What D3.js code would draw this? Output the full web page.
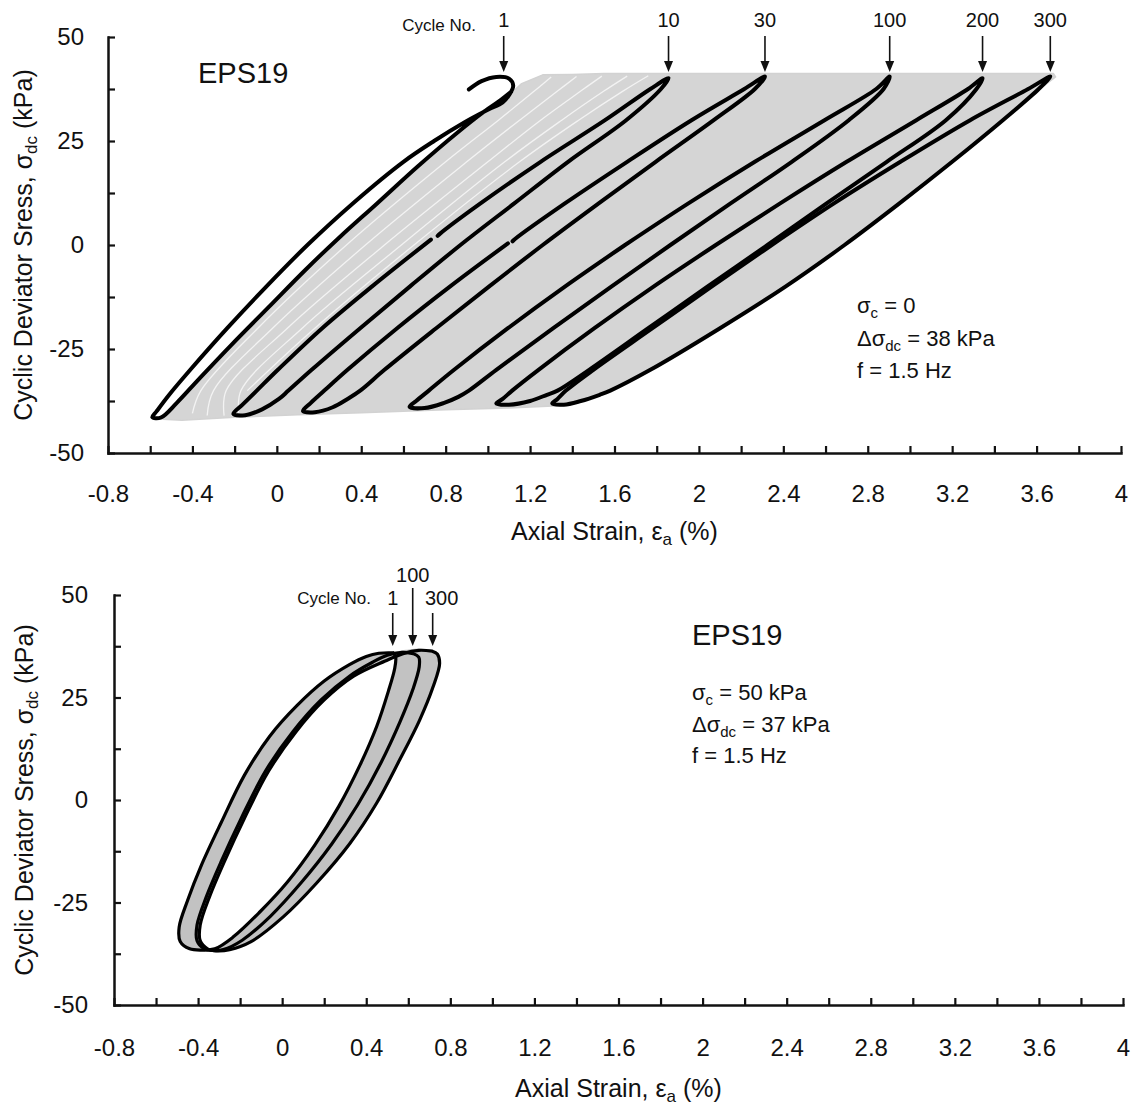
<!DOCTYPE html>
<html>
<head>
<meta charset="utf-8">
<script src="https://cdn.jsdelivr.net/npm/d3@7"></script>
<style>
  body { margin: 0; background: #fff; }
  svg { display: block; }
  text { font-family: "Liberation Sans", Arial, Helvetica, sans-serif; fill: #111; }
</style>
</head>
<body>
<svg id="chart" width="1135" height="1106"></svg>
<script>
// ---------- axis ticks (shared by both panels) ----------
const xTicks = [-0.8,-0.6,-0.4,-0.2,0,0.2,0.4,0.6,0.8,1,1.2,1.4,1.6,1.8,2,2.2,2.4,2.6,2.8,3,3.2,3.4,3.6,3.8,4];
const xTickLabels = ["-0.8","-0.4","0","0.4","0.8","1.2","1.6","2","2.4","2.8","3.2","3.6","4"];
const yTicks = [-50,-37.5,-25,-12.5,0,12.5,25,37.5,50];
const yTickLabels = ["-50","-25","0","25","50"];

// ---------- panel A: sigma_c = 0, points are [axial strain %, deviator stress kPa] ----------
const cycle1A = [
  [0.91,37.4],[0.97,39.4],[1.04,40.4],[1.10,40.0],[1.12,38.3],[1.10,36.0],[1.07,34.3],
  [1.00,32.5],[0.89,29.5],[0.745,25],[0.60,20],[0.36,10],[0.145,0],[-0.05,-10],[-0.235,-20],[-0.41,-30],[-0.51,-36],[-0.57,-40],[-0.59,-41.4],
  [-0.55,-41.5],[-0.475,-38],[-0.365,-32],[-0.215,-24],[-0.04,-15],[0.135,-6],[0.30,2],[0.475,10],[0.67,19],[0.855,27],[0.98,32],[1.065,35],[1.11,36.8]
];
const cycle10A = [
  [0.73,1.3],[0.45,-10],[0.215,-20],[0.005,-30],[-0.095,-35],[-0.165,-38.5],[-0.206,-40.6],
  [-0.15,-40.9],[-0.07,-39.5],[0.01,-37],[0.055,-35],[0.165,-30],[0.395,-20],[0.63,-10],[0.87,0],[1.125,10],[1.38,20],[1.655,30],[1.82,37.5],[1.856,40.1],
  [1.77,37.5],[1.555,30],[1.25,20],[0.965,10],[0.775,2.8],[0.762,2.2]
];
const cycle30A = [
  [1.095,0.4],[0.82,-10],[0.57,-20],[0.335,-30],[0.225,-35],[0.16,-38],[0.124,-39.9],
  [0.18,-40.2],[0.265,-39],[0.335,-37],[0.395,-35],[0.51,-30],[0.755,-20],[1.005,-10],[1.26,0],[1.525,10],[1.795,20],[2.07,30],[2.265,37.5],[2.313,40.5],
  [2.215,37.5],[1.965,30],[1.66,20],[1.365,10],[1.13,1.5],[1.117,0.9]
];
const cycle100A = [
  [1.65,0],[1.365,-10],[1.095,-20],[0.84,-30],[0.72,-35],[0.66,-37.5],[0.629,-38.9],
  [0.70,-39.2],[0.79,-38],[0.86,-36.5],[0.91,-35],[1.04,-30],[1.31,-20],[1.585,-10],[1.865,0],[2.15,10],[2.44,20],[2.71,30],[2.875,37.5],[2.904,40.5],
  [2.84,37.5],[2.595,30],[2.265,20],[1.95,10],[1.65,0]
];
const cycle200A = [
  [2.08,0],[1.785,-10],[1.505,-20],[1.24,-30],[1.115,-35],[1.07,-37],[1.04,-38.1],
  [1.10,-38.4],[1.20,-37.5],[1.28,-36],[1.33,-35],[1.48,-30],[1.76,-20],[2.04,-10],[2.325,0],[2.605,10],[2.89,20],[3.17,30],[3.315,37.5],[3.344,40.1],
  [3.275,37.5],[3.03,30],[2.70,20],[2.385,10],[2.08,0]
];
const cycle300A = [
  [2.345,0],[2.06,-10],[1.78,-20],[1.50,-30],[1.37,-35],[1.33,-37],[1.305,-38.1],
  [1.36,-38.4],[1.44,-37.5],[1.53,-36],[1.58,-35],[1.77,-30],[2.10,-20],[2.41,-10],[2.69,0],[2.95,10],[3.20,20],[3.44,30],[3.61,37.5],[3.665,40.5],
  [3.56,37.5],[3.285,30],[2.955,20],[2.64,10],[2.345,0]
];
// outline of the band swept by all the intermediate cycles
const envelopeA = [
  [1.09,35.5],[1.16,38.8],[1.26,40.9],[1.40,41.0],[1.55,41.2],[1.75,41.2],[2.2,41.2],[2.8,41.2],[3.3,41.2],[3.68,41.2],
  [3.69,40.4],[3.615,37.5],[3.445,30],[3.205,20],[2.955,10],[2.695,0],[2.415,-10],[2.105,-20],[1.775,-30],[1.585,-35],[1.535,-36],[1.445,-37.5],[1.36,-38.6],
  [1.1,-39.2],[0.8,-39.6],[0.4,-40.3],[0.1,-40.8],[-0.2,-41.4],[-0.45,-42.1],[-0.54,-41.9],
  [-0.475,-38],[-0.365,-32],[-0.215,-24],[-0.04,-15],[0.135,-6],[0.30,2],[0.475,10],[0.67,19],[0.855,27],[0.98,32]
];
// light gaps between the first few cycles inside the band
const earlyGapsA = [
  [[-0.40,-40.5],[-0.36,-35],[-0.09,-20],[0.33,0],[0.80,20],[1.05,30],[1.22,37],[1.30,40.4]],
  [[-0.33,-41],[-0.30,-35],[-0.02,-20],[0.42,0],[0.90,20],[1.15,30],[1.33,37],[1.42,40.5]],
  [[-0.25,-41],[-0.24,-35],[0.05,-20],[0.51,0],[1.00,20],[1.25,30],[1.44,37],[1.54,40.6]],
  [[-0.18,-40.8],[-0.17,-35],[0.12,-20],[0.59,0],[1.08,20],[1.35,30],[1.55,37],[1.66,40.6]],
  [[-0.14,-35],[0.18,-20],[0.65,0],[1.15,20],[1.43,30],[1.64,37],[1.76,40.7]]
];
const cycleNumbersA = ["1","10","30","100","200","300"];
const peakStrainA = [1.075,1.856,2.313,2.904,3.344,3.665];

// ---------- panel B: sigma_c = 50 kPa (unloading branch top->bottom, loading branch bottom->top) ----------
const unload1B = [[0.528,35.9],[0.46,35.8],[0.40,35.0],[0.32,33.0],[0.20,29.0],[0.07,23.0],[-0.06,15.5],[-0.18,6.0],
  [-0.29,-5.5],[-0.385,-16],[-0.45,-24.5],[-0.49,-31],[-0.485,-34.5],[-0.44,-36.3],[-0.38,-36.6]];
const load1B = [[-0.38,-36.6],[-0.32,-36.3],[-0.235,-33.5],[-0.11,-27.5],[0.025,-20],[0.155,-11],[0.27,-1.5],[0.37,8.5],
  [0.45,18],[0.505,26.5],[0.535,32],[0.54,34.8],[0.528,35.9]];
const unload100B = [[0.623,35.7],[0.57,36.0],[0.50,35.3],[0.43,33.6],[0.32,30.2],[0.185,24.4],[0.05,16.6],[-0.08,7.0],
  [-0.195,-4.5],[-0.29,-15],[-0.36,-23.5],[-0.405,-30.5],[-0.405,-34.3],[-0.37,-36.3],[-0.33,-36.7]];
const load100B = [[-0.33,-36.7],[-0.28,-36.5],[-0.19,-34.2],[-0.055,-28.3],[0.09,-20.2],[0.235,-10.8],[0.36,-1.1],[0.47,9.1],
  [0.56,19],[0.622,27],[0.652,32.5],[0.65,34.8],[0.623,35.7]];
const unload300B = [[0.714,36.3],[0.65,36.5],[0.575,35.7],[0.49,33.9],[0.34,30.2],[0.20,24.4],[0.065,16.6],[-0.065,7.0],
  [-0.18,-4.5],[-0.275,-15],[-0.345,-23.5],[-0.39,-30.5],[-0.39,-34.3],[-0.355,-36.3],[-0.31,-36.8]];
const load300B = [[-0.31,-36.8],[-0.25,-36.5],[-0.15,-34.6],[0.005,-28.5],[0.163,-20.3],[0.322,-10.6],[0.449,-0.8],[0.559,9.8],
  [0.654,19.5],[0.718,27.6],[0.749,33.3],[0.738,35.6],[0.714,36.3]];
const capB = [[0.65,36.7],[0.59,36.4]];
const cycleNumbersB = ["1","100","300"];
const peakStrainB = [0.526,0.621,0.716];

// ---------- drawing ----------
const svg = d3.select("#chart");
const FONT = '"Liberation Sans", Arial, Helvetica, sans-serif';

function makeScales(p) {
  return {
    x: d3.scaleLinear().domain([-0.8, 4]).range([p.left, p.right]),
    y: d3.scaleLinear().domain([-50, 50]).range([p.bottom, p.top])
  };
}

function drawAxes(g, x, y, p) {
  const xa = d3.axisBottom(x).tickValues(xTicks).tickSize(-7).tickSizeOuter(0)
    .tickPadding(p.xPad).tickFormat((d, i) => i % 2 === 0 ? xTickLabels[i / 2] : "");
  const ya = d3.axisLeft(y).tickValues(yTicks).tickSize(-7).tickSizeOuter(0)
    .tickPadding(p.yPad).tickFormat((d, i) => i % 2 === 0 ? yTickLabels[i / 2] : "");
  const gx = g.append("g").attr("transform", `translate(0,${y(-50)})`).call(xa);
  const gy = g.append("g").attr("transform", `translate(${x(-0.8)},0)`).call(ya);
  [gx, gy].forEach(a => {
    a.attr("font-family", FONT).attr("font-size", 24);
    a.select(".domain").attr("stroke", "#111").attr("stroke-width", 2.5).attr("stroke-linecap", "square");
    a.selectAll(".tick line").attr("stroke", "#111").attr("stroke-width", 2.2);
    a.selectAll(".tick text").attr("fill", "#1a1a1a");
  });

  // x axis title
  const xt = g.append("text").attr("x", (p.left + p.right) / 2).attr("y", p.xTitleY)
    .attr("text-anchor", "middle").attr("font-size", 25);
  xt.append("tspan").text("Axial Strain, \u03b5");
  xt.append("tspan").attr("font-size", 17).attr("dy", 5).text("a");
  xt.append("tspan").attr("dy", -5).text(" (%)");

  // y axis title
  const yt = g.append("text").attr("transform", `translate(${p.yTitleX},${y(0)}) rotate(-90)`)
    .attr("text-anchor", "middle").attr("font-size", 25);
  yt.append("tspan").text("Cyclic Deviator Sress, \u03c3");
  yt.append("tspan").attr("font-size", 17).attr("dy", 5).text("dc");
  yt.append("tspan").attr("dy", -5).text(" (kPa)");
}

function drawParams(g, x0, y0, lines, spacing) {
  lines.forEach((ln, i) => {
    const t = g.append("text").attr("x", x0).attr("y", y0 + i * spacing).attr("font-size", 22);
    ln.forEach(part => {
      const s = t.append("tspan").text(part.t);
      if (part.sub) s.attr("font-size", 15).attr("dy", 5);
      if (part.after) s.attr("dy", -5);
    });
  });
}

function arrow(g, ax, y0, y1) {
  g.append("line").attr("x1", ax).attr("x2", ax).attr("y1", y0).attr("y2", y1 - 8)
    .attr("stroke", "#111").attr("stroke-width", 1.6);
  g.append("path").attr("d", `M${ax - 4.5},${y1 - 11}L${ax + 4.5},${y1 - 11}L${ax},${y1}Z`).attr("fill", "#111");
}

// ===== panel A =====
(function () {
  const p = { left: 108, right: 1121, top: 37, bottom: 453, xPad: 32, yPad: 24, xTitleY: 540, yTitleX: 32 };
  const { x, y } = makeScales(p);
  const g = svg.append("g");
  const path = d3.line().x(d => x(d[0])).y(d => y(d[1])).curve(d3.curveCatmullRom.alpha(0.5));
  const band = d3.line().x(d => x(d[0])).y(d => y(d[1])).curve(d3.curveLinearClosed);

  g.append("path").attr("d", band(envelopeA)).attr("fill", "#d5d5d5").attr("stroke", "#d2d2d2")
    .attr("stroke-width", 1.5).attr("stroke-linejoin", "round");
  earlyGapsA.forEach(s => g.append("path").attr("d", path(s)).attr("fill", "none")
    .attr("stroke", "#f3f3f3").attr("stroke-width", 1.3));

  [cycle1A, cycle10A, cycle30A, cycle100A, cycle200A, cycle300A].forEach(c =>
    g.append("path").attr("d", path(c)).attr("fill", "none").attr("stroke", "#000")
      .attr("stroke-width", 4).attr("stroke-linejoin", "round").attr("stroke-linecap", "round"));

  drawAxes(g, x, y, p);

  g.append("text").attr("x", 198).attr("y", 83).attr("font-size", 29).text("EPS19");
  drawParams(g, 857, 313, [
    [{ t: "\u03c3" }, { t: "c", sub: true }, { t: " = 0", after: true }],
    [{ t: "\u0394\u03c3" }, { t: "dc", sub: true }, { t: " = 38 kPa", after: true }],
    [{ t: "f = 1.5 Hz" }]
  ], 32.5);

  g.append("text").attr("x", 476).attr("y", 31).attr("text-anchor", "end").attr("font-size", 17).text("Cycle No.");
  cycleNumbersA.forEach((n, i) => {
    const ax = x(peakStrainA[i]);
    g.append("text").attr("x", ax).attr("y", 27).attr("text-anchor", "middle").attr("font-size", 20).text(n);
    arrow(g, ax, 36, 72);
  });
})();

// ===== panel B =====
(function () {
  const p = { left: 114, right: 1123, top: 595, bottom: 1005, xPad: 34, yPad: 26, xTitleY: 1097, yTitleX: 33 };
  const { x, y } = makeScales(p);
  const g = svg.append("g");
  const path = d3.line().x(d => x(d[0])).y(d => y(d[1])).curve(d3.curveCatmullRom.alpha(0.5));
  const closed = d3.line().x(d => x(d[0])).y(d => y(d[1])).curve(d3.curveCatmullRomClosed.alpha(0.5));

  // shaded band: outer edge = unloading of cycle 1 + loading of cycle 300;
  // white hole = unloading of cycle 300 + loading of cycle 1
  const outer = unload1B.concat(load300B, capB);
  const hole = unload300B.filter(d => d[1] < 34.5 && d[1] > -36.6)
    .concat(load1B.filter(d => d[1] > -34 && d[1] < 35));
  g.append("path").attr("d", closed(outer)).attr("fill", "#c2c2c2").attr("stroke", "#c2c2c2").attr("stroke-width", 2);
  g.append("path").attr("d", closed(hole)).attr("fill", "#fff");

  [[unload1B, load1B], [unload100B, load100B], [unload300B, load300B]].forEach(([u, l]) =>
    g.append("path").attr("d", path(u.concat(l.slice(1)))).attr("fill", "none").attr("stroke", "#000")
      .attr("stroke-width", 3.2).attr("stroke-linejoin", "round").attr("stroke-linecap", "round"));

  drawAxes(g, x, y, p);

  g.append("text").attr("x", 692).attr("y", 645).attr("font-size", 29).text("EPS19");
  drawParams(g, 692, 700, [
    [{ t: "\u03c3" }, { t: "c", sub: true }, { t: " = 50 kPa", after: true }],
    [{ t: "\u0394\u03c3" }, { t: "dc", sub: true }, { t: " = 37 kPa", after: true }],
    [{ t: "f = 1.5 Hz" }]
  ], 31.5);

  g.append("text").attr("x", 371).attr("y", 604).attr("text-anchor", "end").attr("font-size", 17).text("Cycle No.");
  const labelDx = [0, 0, 9];
  const labelY = [605, 582, 605];
  const arrowTop = [613, 588, 613];
  cycleNumbersB.forEach((n, i) => {
    const ax = x(peakStrainB[i]);
    g.append("text").attr("x", ax + labelDx[i]).attr("y", labelY[i]).attr("text-anchor", "middle").attr("font-size", 20).text(n);
    arrow(g, ax, arrowTop[i], 646);
  });
})();
</script>
</body>
</html>
